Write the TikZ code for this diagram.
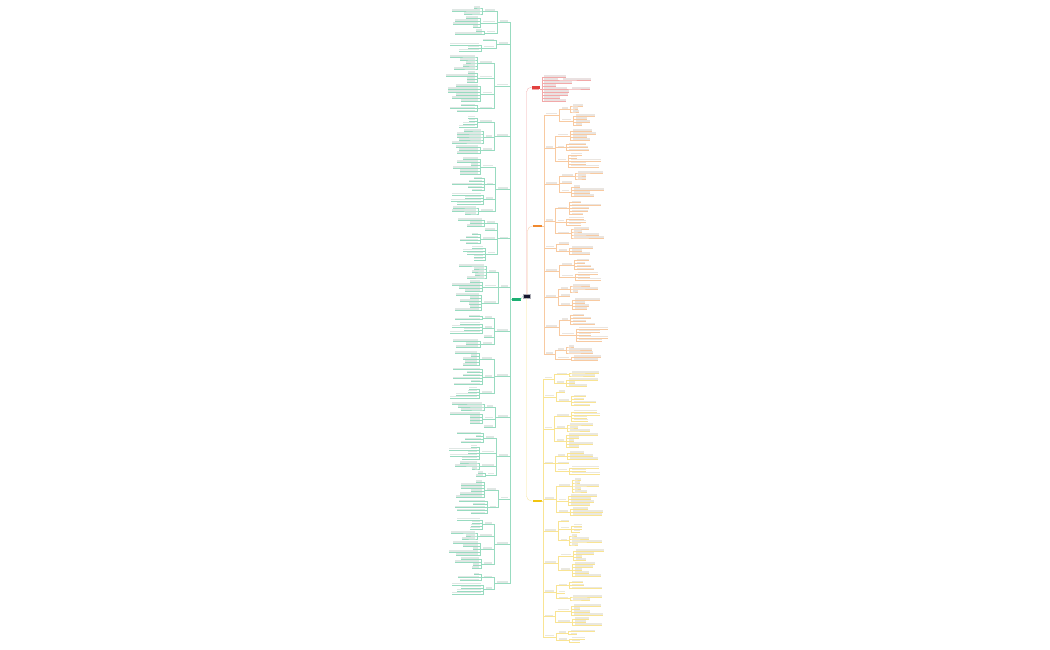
\documentclass[tikz,border=0pt]{standalone}
\usetikzlibrary{calc}
\definecolor{mroot}{HTML}{17172F}
\definecolor{mgreen}{HTML}{1BAF72}
\definecolor{mred}{HTML}{E2413F}
\definecolor{morange}{HTML}{F0892E}
\definecolor{myellow}{HTML}{F1C40F}
\tikzset{
  hub/.style={inner sep=0pt,outer sep=0pt,minimum height=3pt},
  leaf/.style={fill=\bc!40!black!13,inner sep=0pt,outer sep=0pt,minimum height=1.6pt},
  link/.style={draw=\bc!45,line width=0.3pt}
}
\def\rowgap{3}
\def\subgap{1.2}
\def\pwmin{6}\def\pwmax{12}
\def\cury{0}
\newcommand\advy[1]{\pgfmathparse{\cury+#1}\xdef\cury{\pgfmathresult}}
% left sub-branch: #1 name, #2 leaves, #3 right end x
\newcommand\lsub[3]{%
  \pgfmathrandominteger{\pw}{\pwmin}{\pwmax}%
  \pgfmathsetmacro\cx{#3-\pw-5}%
  \xdef\ytop{\cury}%
  \ifnum#2=0
    \xdef\ymid{\cury}\advy{\rowgap}%
  \else
    \foreach \k in {1,...,#2}{%
      \pgfmathrandominteger{\w}{5}{30}%
      \node[leaf,minimum width=\w pt,anchor=south east] (#1-\k) at (\cx,\cury-0.4) {};
      \advy{\rowgap}}%
    \pgfmathparse{(\ytop+\cury-\rowgap)/2}\xdef\ymid{\pgfmathresult}%
  \fi
  \node[leaf,minimum width=\pw pt,anchor=south east] (#1) at (#3,\ymid-0.4) {};
  \draw[link] (#1.south east) ++(0,0.4) -- ++(-\pw,0);
  \ifnum#2>0
    \foreach \k in {1,...,#2}
      \draw[link] ($(#1.south west)+(0,0.4)$) -- ++(-2.5,0) |- ($(#1-\k.south east)+(0,0.4)$) -- ($(#1-\k.south west)+(0,0.4)$);
  \fi
  \advy{\subgap}}
% right sub-branch: #1 name, #2 leaves, #3 left end x
\newcommand\rsub[3]{%
  \pgfmathrandominteger{\pw}{\pwmin}{\pwmax}%
  \pgfmathsetmacro\cx{#3+\pw+5}%
  \xdef\ytop{\cury}%
  \ifnum#2=0
    \xdef\ymid{\cury}\advy{\rowgap}%
  \else
    \foreach \k in {1,...,#2}{%
      \pgfmathrandominteger{\w}{5}{30}%
      \node[leaf,minimum width=\w pt,anchor=south west] (#1-\k) at (\cx,\cury-0.4) {};
      \advy{\rowgap}}%
    \pgfmathparse{(\ytop+\cury-\rowgap)/2}\xdef\ymid{\pgfmathresult}%
  \fi
  \node[leaf,minimum width=\pw pt,anchor=south west] (#1) at (#3,\ymid-0.4) {};
  \draw[link] (#1.south west) ++(0,0.4) -- ++(\pw,0);
  \ifnum#2>0
    \foreach \k in {1,...,#2}
      \draw[link] ($(#1.south east)+(0,0.4)$) -- ++(2.5,0) |- ($(#1-\k.south west)+(0,0.4)$) -- ($(#1-\k.south east)+(0,0.4)$);
  \fi
  \advy{\subgap}}
% left main branch: #1 name, #2 leaf counts
\newcommand\lone[2]{%
  \pgfmathrandominteger{\qw}{7}{11}%
  \pgfmathsetmacro\sx{508-\qw-5}%
  \foreach \nn [count=\m] in {#2}{%
    \lsub{#1-\m}{\nn}{\sx}%
    \ifnum\m=1 \xdef\yfirst{\ymid}\fi
    \xdef\ylast{\ymid}\xdef\nsub{\m}}%
  \pgfmathparse{(\yfirst+\ylast)/2}\xdef\yone{\pgfmathresult}%
  \node[leaf,minimum width=\qw pt,anchor=south east] (#1) at (508,\yone-0.4) {};
  \draw[link] (#1.south east) ++(0,0.4) -- ++(-\qw,0);
  \foreach \m in {1,...,\nsub}
    \draw[link] ($(#1.south west)+(0,0.4)$) -- ++(-2.5,0) |- ($(#1-\m.south east)+(0,0.4)$);
  \advy{2}}
% right main branch: #1 name, #2 leaf counts, #3 left end x, #4 extra style
\newcommand\rone[4]{%
  \pgfmathrandominteger{\qw}{7}{11}%
  \pgfmathsetmacro\sx{#3+\qw+5}%
  \foreach \nn [count=\m] in {#2}{%
    \rsub{#1-\m}{\nn}{\sx}%
    \ifnum\m=1 \xdef\yfirst{\ymid}\fi
    \xdef\ylast{\ymid}\xdef\nsub{\m}}%
  \pgfmathparse{(\yfirst+\ylast)/2}\xdef\yone{\pgfmathresult}%
  \node[leaf,minimum width=\qw pt,anchor=south west,#4] (#1) at (#3,\yone-0.4) {};
  \draw[link] (#1.south west) ++(0,0.4) -- ++(\qw,0);
  \foreach \m in {1,...,\nsub}
    \draw[link] ($(#1.south east)+(0,0.4)$) -- ++(2.5,0) |- ($(#1-\m.south west)+(0,0.4)$);
  \advy{2}}

\begin{document}
\begin{tikzpicture}[x=1pt,y=-1pt]
  \fill[white] (0,0) rectangle (1050,650);
  \useasboundingbox (0,0) rectangle (1050,650);
  \pgfmathsetseed{31}

  % central topic and the four main branches
  \node[hub,fill=mroot,draw=mroot!35,minimum width=7pt,minimum height=4pt] (root) at (526.5,296) {};
  \node[hub,fill=mgreen,minimum width=9pt] (green) at (516,299.5) {};
  \node[hub,fill=morange,minimum width=9.5pt,minimum height=2.5pt] (orange) at (537.5,226) {};
  \node[hub,fill=myellow,minimum width=9pt,minimum height=2.5pt] (yellow) at (537,501) {};

  % green branch (left)
  \def\bc{mgreen}
  \def\cury{8}
  \lone{g1}{3,4,2}
  \lone{g2}{0,3}
  \lone{g3}{5,4,6,3}
  \lone{g4}{4,5,3}
  \lone{g5}{6,5,4,3}
  \lone{g6}{3,0,4,5}
  \lone{g7}{5,4,6}
  \lone{g8}{2,4,0,3}
  \lone{g9}{5,6,4}
  \lone{g10}{3,4,0}
  \lone{g11}{4,5,3,2}
  \lone{g12}{6,5}
  \lone{g13}{4,3,5,4}
  \lone{g14}{3,4}
  \foreach \i in {1,...,14}
    \draw[link] (green.west) -- ++(-1.5,0) |- ($(g\i.south east)+(0,0.4)$);
  \draw[link] (root.west) -- (green.east);

  % red branch
  \def\bc{mred}
  \def\cury{77}
  \def\pwmin{10}\def\pwmax{30}\def\subgap{0}
  \rone{red}{0,1,0,0,1,0,0,0,0}{532}{hub,fill=mred,minimum width=8pt}
  \def\pwmin{6}\def\pwmax{12}\def\subgap{1.2}
  \draw[link,rounded corners=5pt] (root.north) |- (red.west);

  % orange branch
  \def\bc{morange}
  \def\cury{106}
  \rone{o1}{3,4}{546}{}
  \rone{o2}{4,3,5}{546}{}
  \rone{o3}{3,0,4}{546}{}
  \rone{o4}{5,3,4}{546}{}
  \rone{o5}{0,3}{546}{}
  \rone{o6}{4,3}{546}{}
  \rone{o7}{3,0,4}{546}{}
  \rone{o8}{4,5}{546}{}
  \rone{o9}{3,2}{546}{}
  \foreach \i in {1,...,9}
    \draw[link] (orange.east) -- ++(2,0) |- ($(o\i.south west)+(0,0.4)$);
  \draw[link,rounded corners=5pt] (root.north) ++(1,0) |- (orange.west);

  % yellow branch
  \def\bc{myellow}
  \def\cury{373}
  \rone{y1}{2,3}{545}{}
  \rone{y2}{0,4}{545}{}
  \rone{y3}{4,3,5}{545}{}
  \rone{y4}{3,0,3}{545}{}
  \rone{y5}{5,4,3}{545}{}
  \rone{y6}{0,3,4}{545}{}
  \rone{y7}{4,5}{545}{}
  \rone{y8}{3,0,2}{545}{}
  \rone{y9}{4,3}{545}{}
  \rone{y10}{2,2}{545}{}
  \foreach \i in {1,...,10}
    \draw[link] (yellow.east) -- ++(2,0) |- ($(y\i.south west)+(0,0.4)$);
  \draw[link,rounded corners=5pt] (root.south) |- (yellow.west);
\end{tikzpicture}
\end{document}
